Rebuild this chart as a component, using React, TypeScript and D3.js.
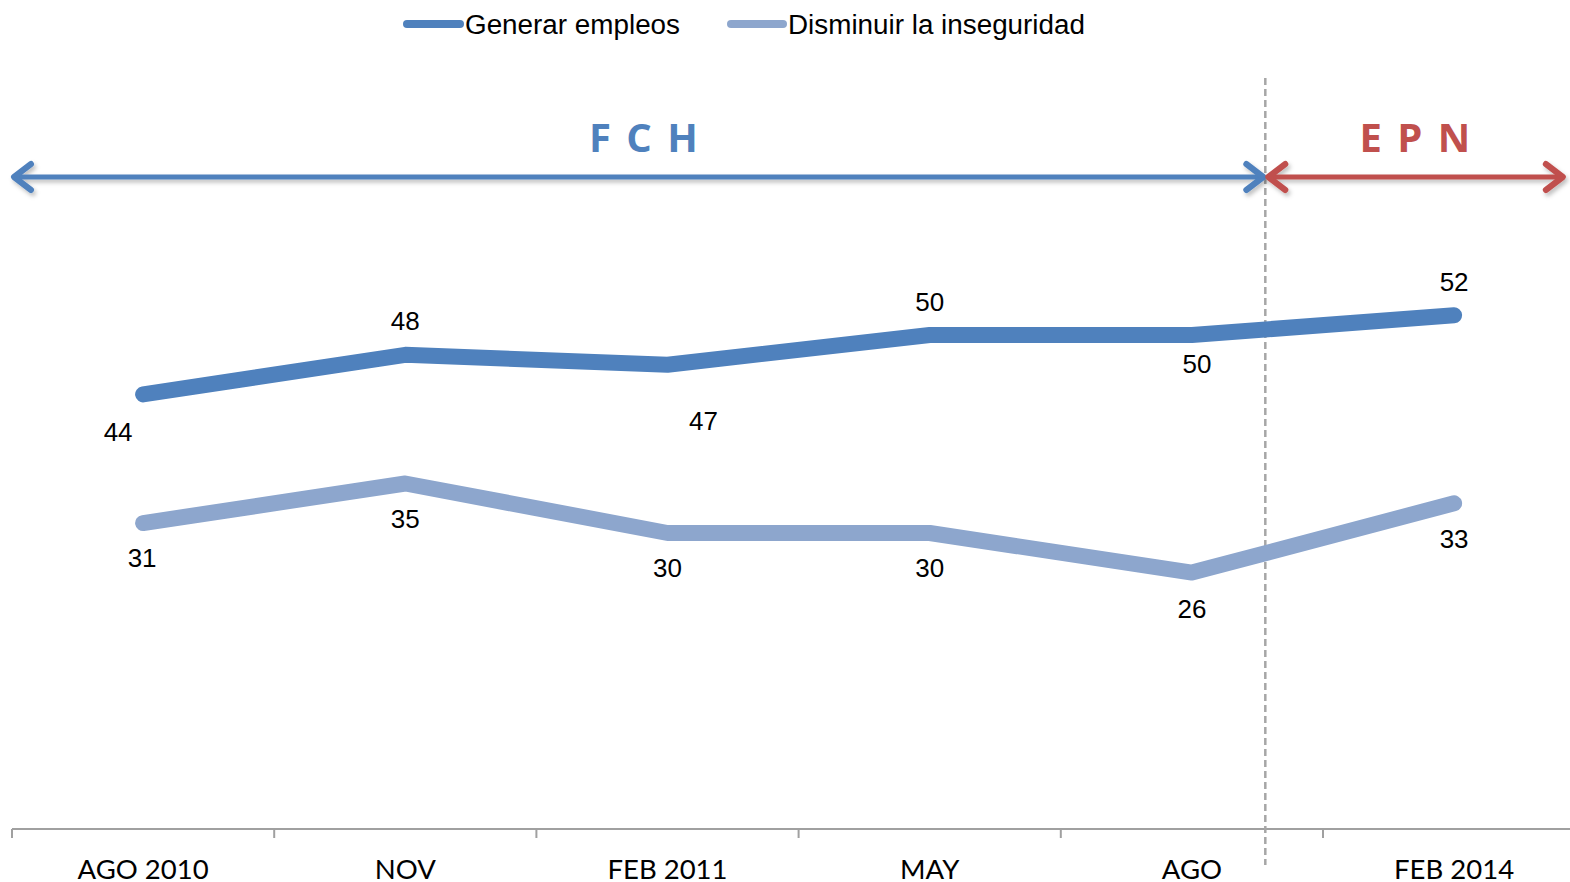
import React from "react";
import * as d3 from "d3";

const categories = ["AGO 2010", "NOV", "FEB 2011", "MAY", "AGO", "FEB 2014"];
const empleos = [44, 48, 47, 50, 50, 52];
const inseguridad = [31, 35, 30, 30, 26, 33];
const seriesNames = ["Generar empleos", "Disminuir la inseguridad"];
// label offsets (dx, dy) relative to each point, as placed in the original
const empleosLabelDx = [-25, 0, 36, 0, 5, 0];
const empleosLabelDy = [38, -34, 56, -33, 29, -33];
const inseguridadLabelDx = [-1, 0, 0, 0, 0, 0];
const inseguridadLabelDy = [35, 35, 35, 35, 36, 36];
const periods = [
  { name: "F C H", from: -0.5, to: 4.28, color: "#4F81BD" },
  { name: "E P N", from: 4.28, to: 5.43, color: "#C0504D" },
];

const W = 1570;
const H = 882;

export default function App() {
  const x = d3.scaleBand<string>().domain(categories).range([12, 12 + 262.2 * 6]).padding(0);
  const bw = x.bandwidth();
  const cx = (i: number) => (x(categories[i]) as number) + bw / 2;
  const xi = d3.scaleLinear().domain([0, 5]).range([cx(0), cx(5)]);
  const y = d3.scaleLinear().domain([0, 80]).range([830, 38]);

  const line = d3
    .line<number>()
    .x((_, i) => cx(i))
    .y((d) => y(d));

  const dark = "#4F81BD";
  const light = "#8DA6CD";
  const axisColor = "#A0A0A0";
  const labelFont = "Liberation Sans, Arial, sans-serif";
  const catFont = "Lato, Open Sans, sans-serif";
  const axisY = y(0) - 1;

  const dividerX = xi(4.28);
  const arrowY = 177;

  const arrowHead = (xTip: number, dir: number, color: string) => (
    <polyline
      points={`${xTip - dir * 17},${arrowY - 13} ${xTip},${arrowY} ${xTip - dir * 17},${arrowY + 13}`}
      fill="none"
      stroke={color}
      strokeWidth={6}
      strokeLinecap="round"
      strokeLinejoin="round"
    />
  );

  return (
    <svg width={W} height={H} style={{ position: "absolute", left: 0, top: 0, background: "#fff" }}>
      <defs>
        <filter id="sh" x="-5%" y="-50%" width="110%" height="200%">
          <feDropShadow dx="2" dy="3" stdDeviation="2" floodColor="#000" floodOpacity="0.25" />
        </filter>
      </defs>
      <rect width={W} height={H} fill="#fff" />

      {/* legend */}
      <g fontFamily={labelFont} fontSize={27} fill="#000">
        <line x1={407} x2={460} y1={24} y2={24} stroke={dark} strokeWidth={8} strokeLinecap="round" />
        <text x={465} y={25} dominantBaseline="central" textLength={215} lengthAdjust="spacingAndGlyphs">{seriesNames[0]}</text>
        <line x1={731} x2={783} y1={24} y2={24} stroke={light} strokeWidth={8} strokeLinecap="round" />
        <text x={788} y={25} dominantBaseline="central" textLength={297} lengthAdjust="spacingAndGlyphs">{seriesNames[1]}</text>
      </g>

      {/* axis */}
      <line x1={12} x2={W} y1={axisY} y2={axisY} stroke={axisColor} strokeWidth={2} />
      {categories.map((c) => (
        <line key={"t" + c} x1={x(c) as number} x2={x(c) as number} y1={axisY} y2={axisY + 9} stroke={axisColor} strokeWidth={2} />
      ))}
      {categories.map((c, i) => (
        <text key={"l" + c} x={cx(i)} y={879} textAnchor="middle" fontFamily={catFont} fontSize={27.5} fill="#000">
          {c}
        </text>
      ))}

      {/* dashed divider */}
      <line x1={dividerX} x2={dividerX} y1={78} y2={865} stroke="#A6A6A6" strokeWidth={2.5} strokeDasharray="7,4" />

      {/* period arrows */}
      {periods.map((p, k) => {
        const x1 = k === 0 ? 14 : xi(p.from) + 3;
        const x2 = k === 0 ? xi(p.to) - 2 : xi(p.to) - 4;
        return (
          <g key={p.name} filter="url(#sh)">
            <line x1={x1} x2={x2} y1={arrowY} y2={arrowY} stroke={p.color} strokeWidth={5} />
            {arrowHead(x1, -1, p.color)}
            {arrowHead(x2, 1, p.color)}
          </g>
        );
      })}
      {periods.map((p, k) => {
        const mid = k === 0 ? (12 + xi(p.to)) / 2 + 6 : (xi(p.from) + 1563) / 2 + 2;
        return (
          <text key={"n" + p.name} x={mid} y={152} textAnchor="middle" fontFamily="Open Sans, sans-serif" fontWeight={700} fontSize={40} letterSpacing={2.5} fill={p.color}>
            {p.name}
          </text>
        );
      })}

      {/* series */}
      <path d={line(inseguridad) as string} fill="none" stroke={light} strokeWidth={16} strokeLinecap="round" strokeLinejoin="round" />
      <path d={line(empleos) as string} fill="none" stroke={dark} strokeWidth={16} strokeLinecap="round" strokeLinejoin="round" />

      {/* data labels */}
      <g fontFamily={labelFont} fontSize={26} fill="#000" textAnchor="middle">
        {empleos.map((v, i) => (
          <text key={"e" + i} x={cx(i) + empleosLabelDx[i]} y={y(v) + empleosLabelDy[i]} dominantBaseline="central">
            {v}
          </text>
        ))}
        {inseguridad.map((v, i) => (
          <text key={"s" + i} x={cx(i) + inseguridadLabelDx[i]} y={y(v) + inseguridadLabelDy[i]} dominantBaseline="central">
            {v}
          </text>
        ))}
      </g>
    </svg>
  );
}
